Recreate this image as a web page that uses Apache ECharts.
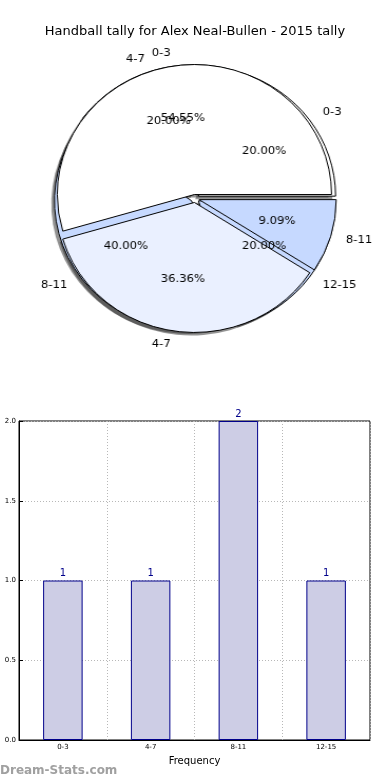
<!DOCTYPE html>
<html>
<head>
<meta charset="utf-8">
<script src="https://cdn.jsdelivr.net/npm/echarts@6/dist/echarts.min.js"></script>
<style>
html,body{margin:0;padding:0;background:#fff;}
#wrap{position:relative;width:390px;height:780px;}
#c{position:absolute;left:0;top:0;width:390px;height:780px;}
#p{position:absolute;left:0;top:0;width:390px;height:390px;transform:scaleX(1.055);transform-origin:195px 0;}
</style>
</head>
<body>
<div id="wrap"><div id="c"></div><div id="p"></div></div>
<script>
var titleText = 'Handball tally for Alex Neal-Bullen - 2015 tally';
var pieACats = ['0-3', '4-7', '8-11'];
var pieAValues = [6, 4, 1];
var pieBCats = ['0-3', '4-7', '8-11', '12-15'];
var pieBValues = [1, 1, 2, 1];
var pieAColors = ['#ffffff', '#eaf0ff', '#c6d9ff'];
var pieBColors = ['#ffffff', '#eaf0ff', '#c6d9ff', '#c6d9ff'];
var barCats = ['0-3', '4-7', '8-11', '12-15'];
var barValues = [1, 1, 2, 1];

var R = 130;
var CX = 195, CY = 198.5;
var FONT = 'DejaVu Sans';

function pieData(cats, vals, colors, sel) {
  return cats.map(function (c, i) {
    return { name: c, value: vals[i], selected: sel, itemStyle: { color: colors[i] } };
  });
}
function pctData(cats, vals) {
  return cats.map(function (c, i) { return { name: c, value: vals[i] }; });
}
function mainPie(cats, vals, colors, z) {
  return {
    type: 'pie', z: z, silent: true,
    center: [CX, CY], radius: [0, R],
    startAngle: 0, clockwise: false,
    selectedMode: 'multiple', selectedOffset: 4,
    avoidLabelOverlap: false,
    labelLayout: { hideOverlap: false },
    itemStyle: { borderColor: '#000', borderWidth: 1 },
    label: { show: true, position: 'outside', color: '#000', fontSize: 11, fontFamily: FONT, distanceToLabelLine: 2 },
    labelLine: { show: false, length: 13, length2: 0 },
    emphasis: { disabled: true },
    data: pieData(cats, vals, colors, true)
  };
}
function shadowPie(cats, vals) {
  return {
    type: 'pie', z: 0, silent: true,
    center: [CX - 3, CY + 3], radius: [0, R],
    startAngle: 0, clockwise: false,
    selectedMode: 'multiple', selectedOffset: 4,
    label: { show: false }, labelLine: { show: false },
    itemStyle: { color: 'rgba(40,40,40,0.5)', borderWidth: 0 },
    emphasis: { disabled: true },
    data: cats.map(function (c, i) { return { name: c, value: vals[i], selected: true }; })
  };
}
function pctPie(cats, vals, z) {
  return {
    type: 'pie', z: z, silent: true,
    center: [CX, CY], radius: [R * 0.2, R],
    startAngle: 0, clockwise: false,
    avoidLabelOverlap: false,
    labelLayout: { hideOverlap: false },
    itemStyle: { color: 'rgba(0,0,0,0)', borderWidth: 0 },
    label: {
      show: true, position: 'inside', color: '#000', fontSize: 11, fontFamily: FONT,
      formatter: function (p) { return p.percent.toFixed(2) + '%'; }
    },
    labelLine: { show: false },
    emphasis: { disabled: true },
    data: pctData(cats, vals)
  };
}

var chart = echarts.init(document.getElementById('c'), null, { renderer: 'canvas' });
chart.setOption({
  animation: false,
  backgroundColor: '#fff',
  title: {
    text: titleText, left: 'center', top: 20,
    textStyle: { fontSize: 13, fontWeight: 'normal', color: '#000', fontFamily: FONT }
  },
  graphic: [{
    type: 'text', left: 0, top: 765,
    style: { text: 'Dream-Stats.com', fill: '#a0a0a0', font: 'bold 12px "DejaVu Sans"' }
  }],
  grid: {
    left: 19, right: 20, top: 421, bottom: 40,
    show: true, borderColor: '#000', borderWidth: 1, backgroundColor: 'transparent'
  },
  xAxis: {
    type: 'category', data: barCats,
    name: 'Frequency', nameLocation: 'middle', nameGap: 16,
    nameTextStyle: { fontSize: 10, color: '#000', fontFamily: FONT },
    axisLine: { lineStyle: { color: '#000' } },
    axisTick: { show: true, alignWithLabel: true, inside: true, length: 4, lineStyle: { color: '#000' } },
    axisLabel: { fontSize: 7, color: '#000', margin: 4, fontFamily: FONT },
    splitLine: { show: true, interval: 0, lineStyle: { color: '#b8b8b8', type: [1, 2] } }
  },
  yAxis: {
    type: 'value', min: 0, max: 2, interval: 0.5,
    axisLine: { show: true, lineStyle: { color: '#000' } },
    axisTick: { show: true, inside: true, length: 4, lineStyle: { color: '#000' } },
    axisLabel: { fontSize: 7, color: '#000', margin: 3, fontFamily: FONT,
      formatter: function (v) { return v.toFixed(1); } },
    splitLine: { show: true, lineStyle: { color: '#b8b8b8', type: [1, 2] } }
  },
  series: [
    {
      type: 'bar', data: barValues, barWidth: '45%',
      itemStyle: { color: '#cdcde5', borderColor: '#00008b', borderWidth: 1 },
      label: { show: true, position: 'top', distance: 2, color: '#00008b', fontSize: 10, fontFamily: FONT },
      emphasis: { disabled: true }
    }
  ]
});

var pie = echarts.init(document.getElementById('p'), null, { renderer: 'canvas' });
pie.setOption({
  animation: false,
  backgroundColor: 'transparent',
  series: [
    shadowPie(pieBCats, pieBValues),
    shadowPie(pieACats, pieAValues),
    mainPie(pieBCats, pieBValues, pieBColors, 2),
    mainPie(pieACats, pieAValues, pieAColors, 3),
    pctPie(pieBCats, pieBValues, 10),
    pctPie(pieACats, pieAValues, 10)
  ]
});
</script>
</body>
</html>
